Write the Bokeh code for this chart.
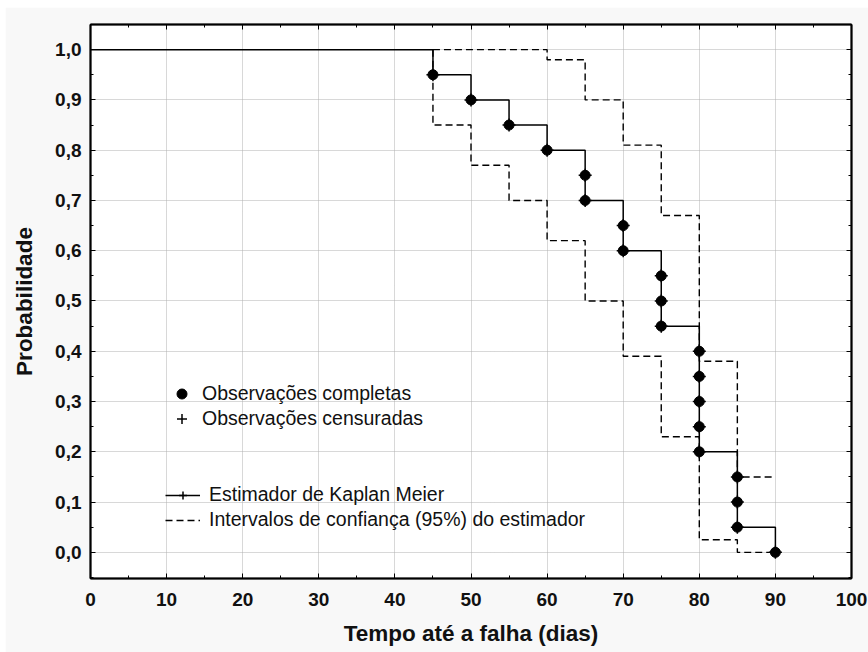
from bokeh.plotting import figure
from bokeh.models import (LinearAxis, SingleIntervalTicker, CustomJSTickFormatter,
                          CustomLabelingPolicy, Legend, LegendItem, Range1d)
from bokeh.embed import file_html
from bokeh.resources import INLINE

# ---- data ----
km_time = [0, 45, 50, 55, 60, 65, 70, 75, 80, 85, 90]
km_surv = [1.0, 0.95, 0.90, 0.85, 0.80, 0.70, 0.60, 0.45, 0.20, 0.05, 0.0]
upper_time = [45, 60, 65, 70, 75, 80, 85, 90]
upper_ci = [1.0, 0.98, 0.90, 0.81, 0.67, 0.38, 0.15, 0.15]
lower_time = [45, 45, 50, 55, 60, 65, 70, 75, 80, 85, 90]
lower_ci = [1.0, 0.85, 0.77, 0.70, 0.62, 0.50, 0.39, 0.23, 0.025, 0.0, 0.0]
obs_time = [45, 50, 55, 60, 65, 65, 70, 70, 75, 75, 75, 80, 80, 80, 80, 80, 85, 85, 85, 90]
obs_surv = [0.95, 0.90, 0.85, 0.80, 0.75, 0.70, 0.65, 0.60, 0.55, 0.50, 0.45,
            0.40, 0.35, 0.30, 0.25, 0.20, 0.15, 0.10, 0.05, 0.0]

x_title = "Tempo até a falha (dias)"
y_title = "Probabilidade"
lab_complete = "Observações completas"
lab_censored = "Observações censuradas"
lab_km = "Estimador de Kaplan Meier"
lab_ci = "Intervalos de confiança (95%) do estimador"

FONT = "Liberation Sans"

p = figure(width=863, height=645, x_range=Range1d(0, 100), y_range=Range1d(-0.052, 1.05),
           output_backend="svg", toolbar_location=None,
           min_border_left=85, min_border_right=17, min_border_top=17, min_border_bottom=74,
           border_fill_color="#f8f8f8", background_fill_color="white")
p.margin = (7, 0, 0, 5)
p.outline_line_color = "black"
p.outline_line_width = 1.5

p.xaxis.ticker = SingleIntervalTicker(interval=10, num_minor_ticks=2)
p.yaxis.ticker = SingleIntervalTicker(interval=0.1, num_minor_ticks=2)
p.yaxis.formatter = CustomJSTickFormatter(code="return tick.toFixed(1).replace('.', ',');")

for ax in (p.xaxis[0], p.yaxis[0]):
    ax.axis_line_width = 2
    ax.axis_line_color = "black"
    ax.major_tick_in = 5
    ax.major_tick_out = 0
    ax.minor_tick_in = 3
    ax.minor_tick_out = 0
    ax.major_tick_line_color = "black"
    ax.minor_tick_line_color = "black"
    ax.major_label_text_font = FONT
    ax.major_label_text_font_style = "bold"
    ax.major_label_text_font_size = "19px"
    ax.major_label_text_color = "#111111"
    ax.axis_label_text_font = FONT
    ax.axis_label_text_font_style = "bold"
    ax.axis_label_text_font_size = "22.5px"
    ax.axis_label_text_color = "#111111"

p.xaxis.axis_label = x_title
p.yaxis.axis_label = y_title
p.xaxis.major_label_standoff = 14
p.xaxis.axis_label_standoff = 12
p.yaxis.major_label_standoff = 9
p.yaxis.axis_label_standoff = 15

hide_all = CustomLabelingPolicy(code="for (const i of indices) indices.unset(i); return indices;")
for loc, tick in (("above", SingleIntervalTicker(interval=10, num_minor_ticks=2)),
                  ("right", SingleIntervalTicker(interval=0.1, num_minor_ticks=2))):
    ax = LinearAxis(ticker=tick)
    ax.axis_line_width = 2
    ax.axis_line_color = "black"
    ax.major_tick_in = 5
    ax.major_tick_out = 0
    ax.minor_tick_in = 3
    ax.minor_tick_out = 0
    ax.major_label_policy = hide_all
    ax.major_label_text_font_size = "1px"
    ax.major_label_standoff = 0
    p.add_layout(ax, loc)

p.grid.grid_line_color = "#b0b0b0"
p.grid.grid_line_dash = "1 1"
p.grid.grid_line_width = 1

# ---- glyphs ----
r_upper = p.step(upper_time, upper_ci, mode="after", line_color="black",
                 line_width=1.4, line_dash="7 4")
r_lower = p.step(lower_time, lower_ci, mode="after", line_color="black",
                 line_width=1.4, line_dash="7 4")
r_km = p.step(km_time, km_surv, mode="after", line_color="black", line_width=1.5)
r_cross = p.scatter(obs_time, obs_surv, marker="cross", size=13,
                    line_color="black", line_width=1.5)
r_dots = p.scatter(obs_time, obs_surv, marker="circle", size=10,
                   fill_color="black", line_color="black", line_width=1)

leg_style = dict(border_line_color=None, background_fill_alpha=0, padding=0, margin=0,
                 label_text_font=FONT, label_text_font_size="19.5px",
                 label_text_color="#111111")

leg1 = Legend(items=[LegendItem(label=lab_complete, renderers=[r_dots]),
                     LegendItem(label=lab_censored, renderers=[r_cross])],
              location=(79, 147), glyph_width=25, glyph_height=25, label_height=25,
              spacing=0, label_standoff=8, **leg_style)
leg2 = Legend(items=[LegendItem(label=lab_km, renderers=[r_km, r_cross]),
                     LegendItem(label=lab_ci, renderers=[r_upper])],
              location=(75, 47), glyph_width=35, glyph_height=20, label_height=20,
              spacing=2, label_standoff=9, **leg_style)
p.add_layout(leg1)
p.add_layout(leg2)

open("out.html", "w").write(file_html(p, INLINE))
